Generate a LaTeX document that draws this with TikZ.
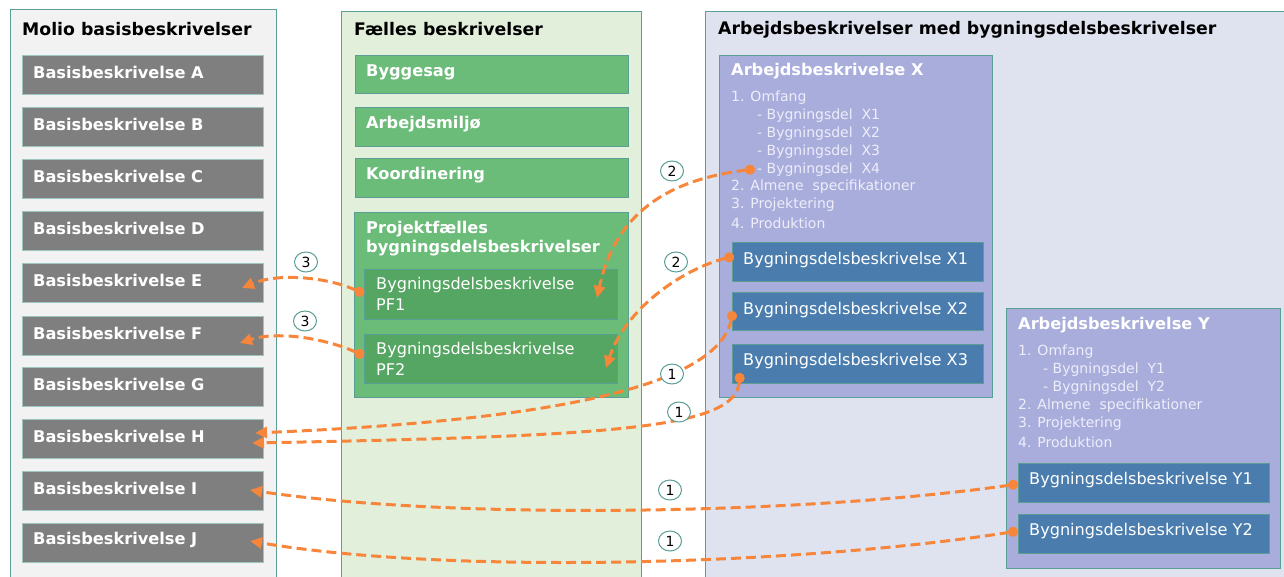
\documentclass[tikz,border=0pt]{standalone}
\usepackage{fontspec}
\setmainfont{DejaVu Sans}
\usetikzlibrary{arrows.meta,calc,shapes.geometric}
\definecolor{teal}{RGB}{90,158,150}
\definecolor{panelgray}{RGB}{242,242,242}
\definecolor{boxgray}{RGB}{127,127,127}
\definecolor{panelgreen}{RGB}{226,239,218}
\definecolor{boxgreen}{RGB}{107,187,121}
\definecolor{darkgreen}{RGB}{85,165,99}
\definecolor{panelblue}{RGB}{223,227,240}
\definecolor{boxpurple}{RGB}{168,173,220}
\definecolor{boxblue}{RGB}{74,125,174}
\definecolor{conn}{RGB}{247,133,58}
\definecolor{listtxt}{RGB}{238,238,250}
\tikzset{
  panel/.style={draw=teal, line width=1pt},
  graybox/.style={draw=teal!60, line width=0.8pt, fill=boxgray},
  greenbox/.style={draw=teal, line width=0.8pt, fill=boxgreen},
  pfbox/.style={draw=teal, line width=0.8pt, fill=darkgreen},
  purplebox/.style={draw=teal, line width=0.8pt, fill=boxpurple},
  bluebox/.style={draw=teal, line width=0.8pt, fill=boxblue},
  title/.style={anchor=west, inner sep=0pt, font=\bfseries\fontsize{17.3}{20}\selectfont, text=black},
  btxt/.style={anchor=west, inner sep=0pt, font=\bfseries\fontsize{16.2}{19}\selectfont, text=white},
  ntxt/.style={anchor=west, inner sep=0pt, font=\fontsize{16.1}{19}\selectfont, text=white, align=left},
  ltxt/.style={anchor=west, inner sep=0pt, font=\fontsize{14}{16}\selectfont, text=listtxt},
  num/.style={ellipse, draw=teal, fill=white, line width=1pt, minimum width=23pt, minimum height=20pt, inner sep=0pt, font=\fontsize{14}{15}\selectfont},
  link/.style={draw=conn, line width=3pt, dash pattern=on 10pt off 5pt, {Circle[length=10pt,width=10pt]}-{Triangle[length=12pt,width=11pt]}},
}
\begin{document}
\begin{tikzpicture}[x=1pt,y=-1pt]
\useasboundingbox (0,0) rectangle (1284,577);
% panels
\path[panel, fill=panelgray] (10,10) rectangle (276,600);
\path[panel, fill=panelgreen] (341,12) rectangle (641,600);
\path[panel, fill=panelblue] (705,12) rectangle (1300,600);
\node[title] (t1) at (22,29) {Molio basisbeskrivelser};
\node[title] (t2) at (354,29) {Fælles beskrivelser};
\node[title] (t3) at (718,30) {Arbejdsbeskrivelser med bygningsdelsbeskrivelser};
% left boxes
\foreach \l/\y in {A/55,B/107,C/159,D/211,E/263,F/316,G/367,H/419,I/471,J/523}{
  \path[graybox] (22,\y) rectangle (263,\y+39);
  \node[btxt] (b\l) at (33,\y+17) {Basisbeskrivelse \l};
  \coordinate (e\l) at (263,\y+19);
}
% green boxes
\path[greenbox] (355,55) rectangle (628,93);
\node[btxt] (g1) at (366,72) {Byggesag};
\path[greenbox] (355,107) rectangle (628,146);
\node[btxt] (g2) at (366,124) {Arbejdsmiljø};
\path[greenbox] (355,158) rectangle (628,197);
\node[btxt] (g3) at (366,175) {Koordinering};
\path[greenbox] (354,212) rectangle (628,397);
\node[btxt] (g4a) at (366,229) {Projektfælles};
\node[btxt] (g4b) at (366,248) {bygningsdelsbeskrivelser};
\path[pfbox] (364,269) rectangle (617,319);
\node[ntxt] (pf1) at (376,285) {Bygningsdelsbeskrivelse};
\node[ntxt] (pf1b) at (376,305) {PF1};
\path[pfbox] (364,334) rectangle (617,383);
\node[ntxt] (pf2) at (376,350) {Bygningsdelsbeskrivelse};
\node[ntxt] (pf2b) at (376,370) {PF2};
% Arbejdsbeskrivelse X
\path[purplebox] (719,55) rectangle (992,397);
\node[btxt] (ax) at (731,71) {Arbejdsbeskrivelse X};
\node[ltxt] (ax1) at (731,98) {1. Omfang};
\node[ltxt] (ax2) at (757,116) {- Bygningsdel~ X1};
\node[ltxt] (ax3) at (757,134) {- Bygningsdel~ X2};
\node[ltxt] (ax4) at (757,152) {- Bygningsdel~ X3};
\node[ltxt] (ax5) at (757,170) {- Bygningsdel~ X4};
\node[ltxt] (ax6) at (731,187) {2. Almene~ specifikationer};
\node[ltxt] (ax7) at (731,205) {3. Projektering};
\node[ltxt] (ax8) at (731,223) {4. Produktion};
\path[bluebox] (732,242) rectangle (983,281);
\node[ntxt] (x1) at (743,260) {Bygningsdelsbeskrivelse X1};
\path[bluebox] (732,292) rectangle (983,330);
\node[ntxt] (x2) at (743,310) {Bygningsdelsbeskrivelse X2};
\path[bluebox] (732,344) rectangle (983,383);
\node[ntxt] (x3) at (743,361) {Bygningsdelsbeskrivelse X3};
% Arbejdsbeskrivelse Y
\path[purplebox] (1006,308) rectangle (1280,568);
\node[btxt] (ay) at (1018,325) {Arbejdsbeskrivelse Y};
\node[ltxt] (ay1) at (1018,352) {1. Omfang};
\node[ltxt] (ay2) at (1043,370) {- Bygningsdel~ Y1};
\node[ltxt] (ay3) at (1043,388) {- Bygningsdel~ Y2};
\node[ltxt] (ay4) at (1018,406) {2. Almene~ specifikationer};
\node[ltxt] (ay5) at (1018,424) {3. Projektering};
\node[ltxt] (ay6) at (1018,442) {4. Produktion};
\path[bluebox] (1018,463) rectangle (1269,502);
\node[ntxt] (y1) at (1029,480) {Bygningsdelsbeskrivelse Y1};
\path[bluebox] (1018,514) rectangle (1269,553);
\node[ntxt] (y2) at (1029,531) {Bygningsdelsbeskrivelse Y2};
% connector end points
\coordinate (s1) at (755,169);
\coordinate (d1) at (597,298);
\coordinate (s2) at (734,256);
\coordinate (d2) at (606,368);
\coordinate (s3) at (364,294);
\coordinate (d3) at (242,288);
\coordinate (s4) at (364,356);
\coordinate (d4) at (240,343);
\coordinate (s5) at (733,311);
\coordinate (d5) at (255,433);
\coordinate (s6) at (740,373);
\coordinate (d6) at (252,443);
\coordinate (s7) at (1018,484);
\coordinate (d7) at (250,490);
\coordinate (s8) at (1018,531);
\coordinate (d8) at (250,541);
% connectors
\draw[link] (s1) .. controls (665,180) and (615,215) .. (d1);
\draw[link] (s2) .. controls (680,270) and (625,310) .. (d2);
\draw[link] (s3) .. controls (330,278) and (280,272) .. (d3);
\draw[link] (s4) .. controls (330,340) and (280,330) .. (d4);
\draw[link] (s5) .. controls (718,385) and (560,420) .. (d5);
\draw[link] (s6) .. controls (736,428) and (620,436) .. (d6);
\draw[link] (s7) .. controls (800,515) and (450,520) .. (d7);
\draw[link] (s8) .. controls (800,565) and (450,575) .. (d8);
% number labels
\node[num] (n1) at (672,171) {2};
\node[num] (n2) at (676,262) {2};
\node[num] (n3) at (306,262) {3};
\node[num] (n4) at (305,321) {3};
\node[num] (n5) at (672,374) {1};
\node[num] (n6) at (679,412) {1};
\node[num] (n7) at (670,490) {1};
\node[num] (n8) at (670,541) {1};
\end{tikzpicture}
\end{document}
